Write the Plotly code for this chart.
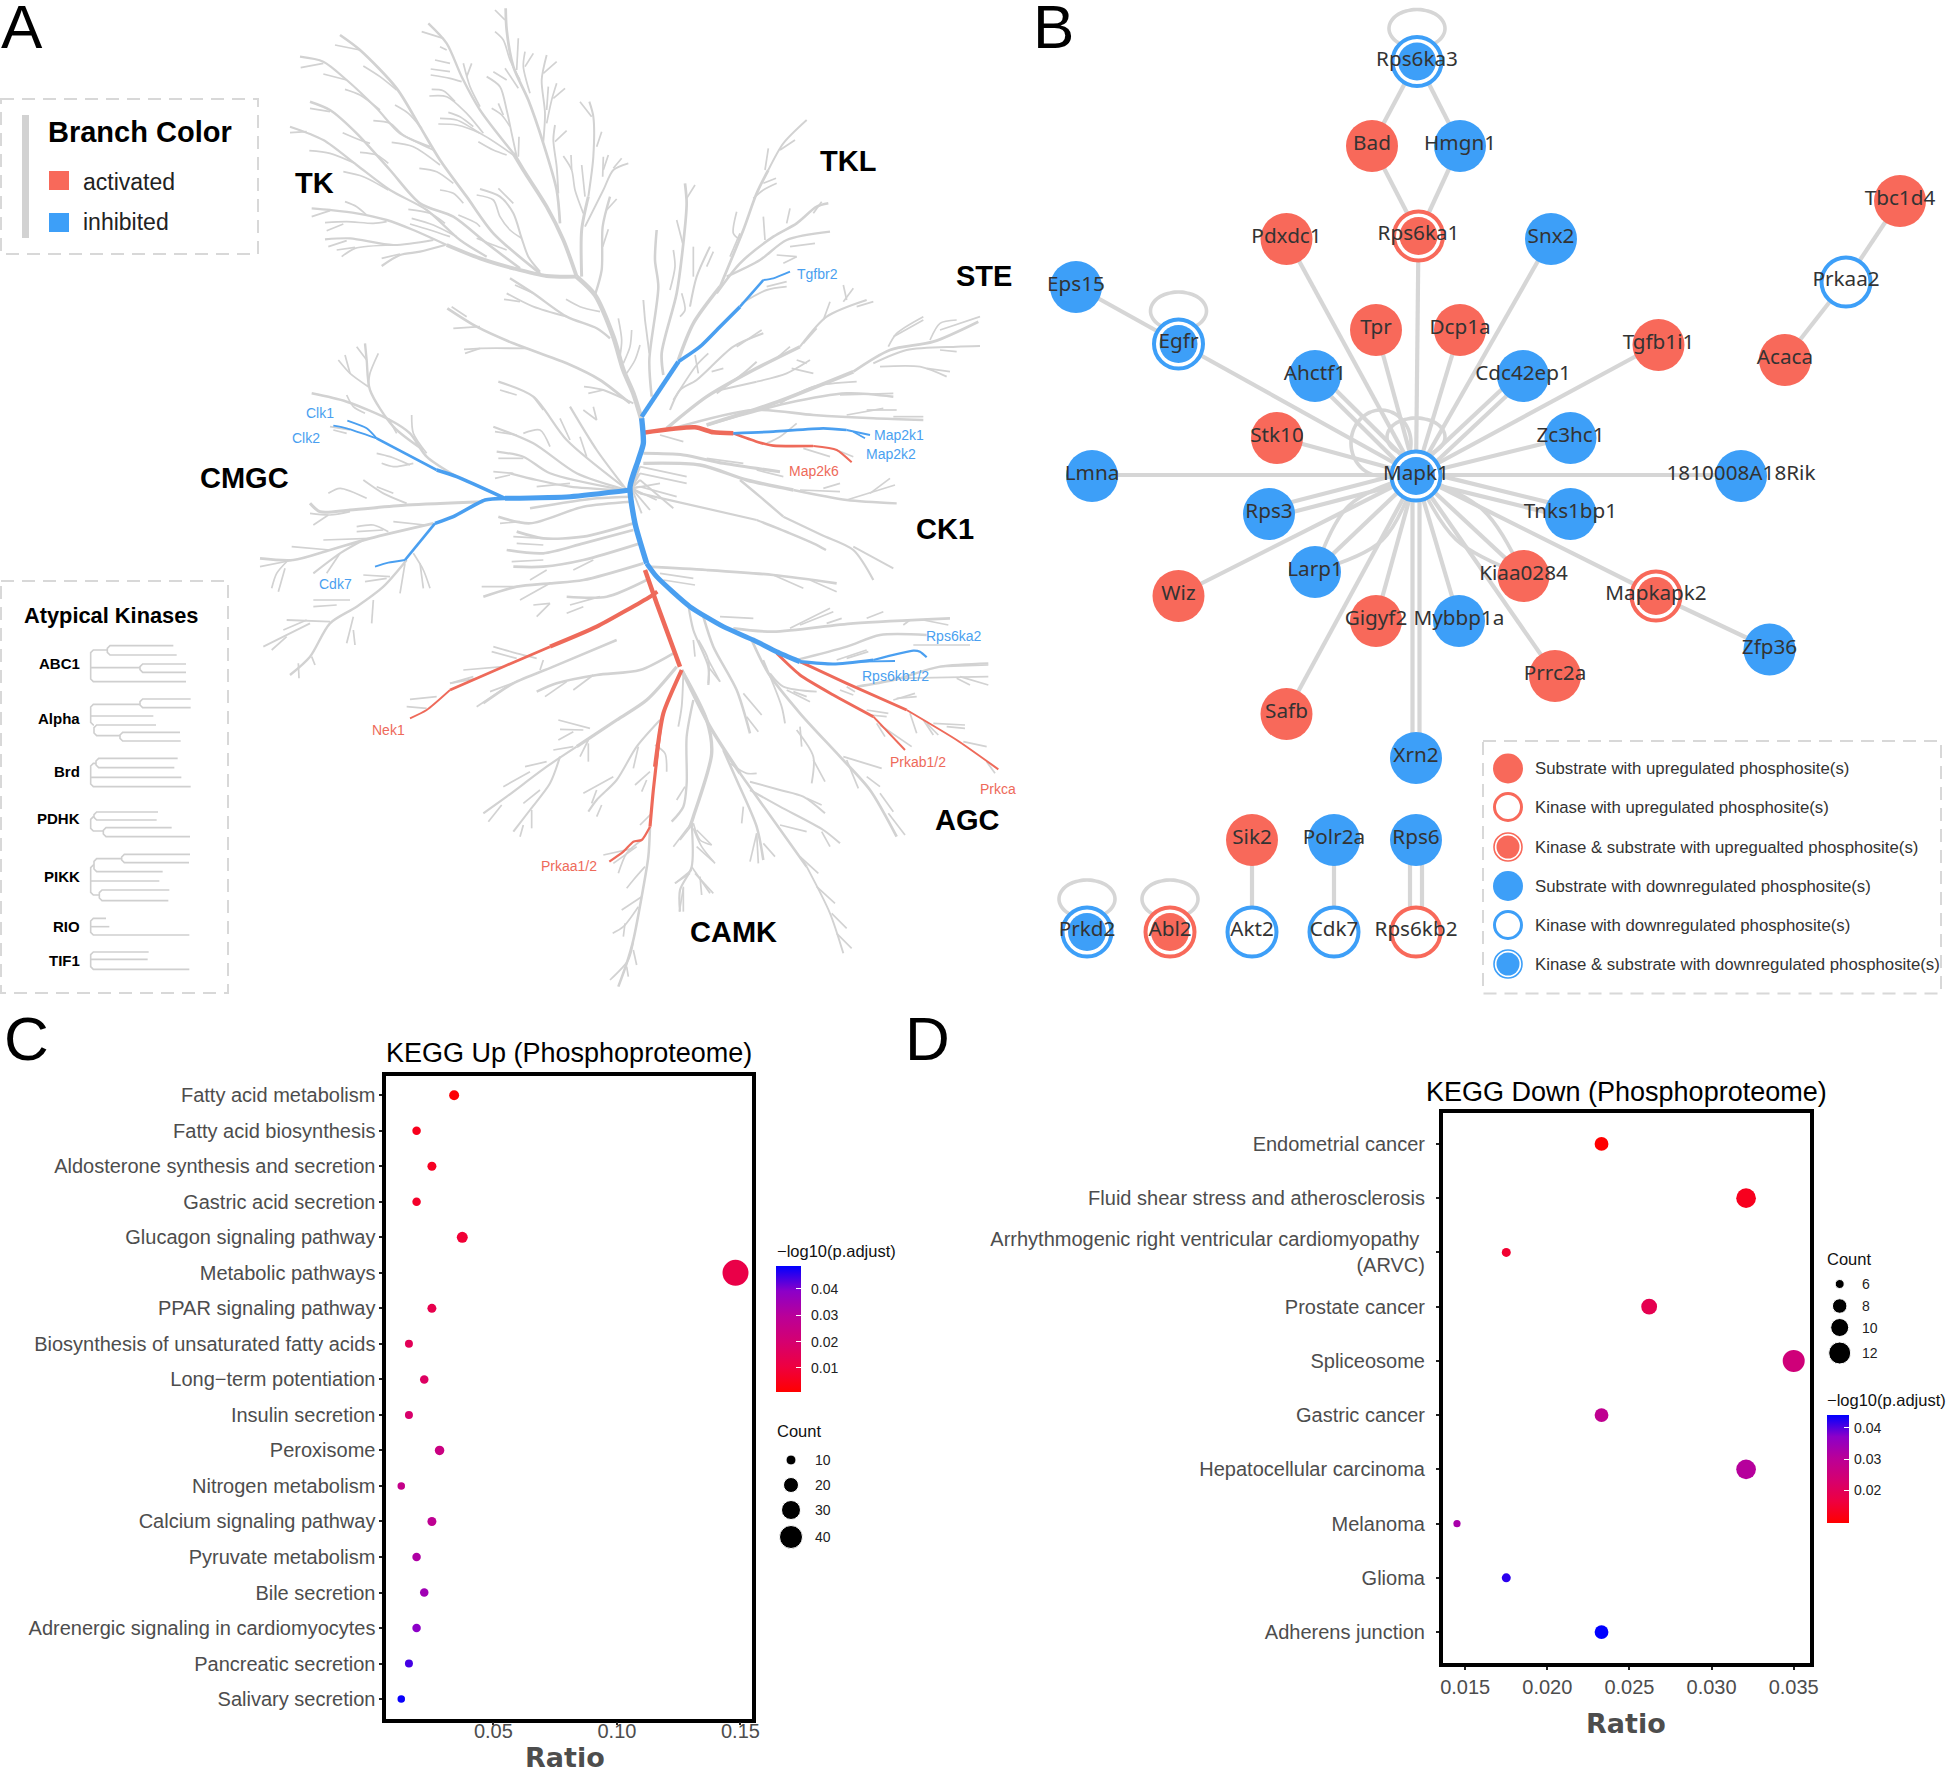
import math
import plotly.graph_objects as go

W, H = 1950, 1772
GRAY = "#d2d2d2"; TRED = "#ee6a5a"; TBLUE = "#4a9ff0"
NRED = "#f8695a"; NBLUE = "#3d9ff8"
TXT = "#4d4d4d"; FONT = "Liberation Sans"

# ---------------- Panel C data
c_terms = ["Fatty acid metabolism", "Fatty acid biosynthesis", "Aldosterone synthesis and secretion",
           "Gastric acid secretion", "Glucagon signaling pathway", "Metabolic pathways", "PPAR signaling pathway",
           "Biosynthesis of unsaturated fatty acids", "Long\u2212term potentiation", "Insulin secretion", "Peroxisome",
           "Nitrogen metabolism", "Calcium signaling pathway", "Pyruvate metabolism", "Bile secretion",
           "Adrenergic signaling in cardiomyocytes", "Pancreatic secretion", "Salivary secretion"]
c_ratio = [0.0341, 0.0189, 0.0251, 0.0189, 0.0374, 0.148, 0.0251, 0.0158, 0.022, 0.0158, 0.0282, 0.0127, 0.0251,
           0.0189, 0.022, 0.0189, 0.0158, 0.0127]
c_padj = [0.002, 0.005, 0.006, 0.007, 0.009, 0.012, 0.013, 0.015, 0.017, 0.019, 0.024, 0.026, 0.028, 0.032, 0.035,
          0.039, 0.044, 0.048]
c_size = [10, 8.5, 9, 8.5, 11, 26, 9, 8, 8.5, 8, 9.5, 7.5, 9, 8.5, 8.5, 8.5, 8, 7.5]
c_count_levels = ["10", "20", "30", "40"]
c_count_sizes = [10, 15, 19, 23]
c_count_y = [1460, 1485, 1510, 1537]

# ---------------- Panel D data
d_terms = ["Endometrial cancer", "Fluid shear stress and atherosclerosis",
           "Arrhythmogenic right ventricular cardiomyopathy <br>(ARVC)", "Prostate cancer", "Spliceosome",
           "Gastric cancer", "Hepatocellular carcinoma", "Melanoma", "Glioma", "Adherens junction"]
d_ratio = [0.0233, 0.0321, 0.0175, 0.0262, 0.0350, 0.0233, 0.0321, 0.0145, 0.0175, 0.0233]
d_padj = [0.0098, 0.013, 0.015, 0.019, 0.025, 0.029, 0.031, 0.033, 0.042, 0.0441]
d_size = [13.8, 19.7, 9, 15.8, 22, 13.8, 19.7, 7.2, 9, 13.8]
d_count_levels = ["6", "8", "10", "12"]
d_count_sizes = [9, 14.5, 18, 22]
d_count_y = [1284, 1306, 1327.5, 1353]

COLORSCALE = [[0, "#ff0000"], [0.2, "#ee0040"], [0.4, "#d50070"], [0.6, "#ba0098"], [0.8, "#8c00c8"], [1, "#0000ff"]]

# ---------------- Panel B network
nodes_sub_up = {"Bad": (1372, 145), "Pdxdc1": (1286.5, 238), "Tpr": (1376, 329), "Dcp1a": (1460, 329),
                "Tgfb1i1": (1658.5, 344), "Stk10": (1277, 437), "Kiaa0284": (1523.5, 575), "Wiz": (1178.5, 595),
                "Gigyf2": (1376, 620), "Prrc2a": (1555, 675), "Safb": (1286.5, 713), "Sik2": (1252, 839),
                "Tbc1d4": (1900, 200), "Acaca": (1785, 359)}
nodes_kin_up = {"Rps6kb2": (1416, 931)}
nodes_both_up = {"Rps6ka1": (1418.5, 235), "Mapkapk2": (1656, 595), "Abl2": (1170, 931)}
nodes_sub_down = {"Hmgn1": (1460, 145), "Snx2": (1551, 238), "Eps15": (1076, 286), "Ahctf1": (1315, 375),
                  "Cdc42ep1": (1523, 375), "Zc3hc1": (1570.5, 437), "Lmna": (1092, 475), "1810008A18Rik": (1741, 475),
                  "Rps3": (1269, 513), "Tnks1bp1": (1570.5, 513), "Larp1": (1315, 571), "Mybbp1a": (1459, 620),
                  "Zfp36": (1769.5, 648.5), "Xrn2": (1416, 757), "Polr2a": (1334, 839), "Rps6": (1416, 839)}
nodes_kin_down = {"Akt2": (1252, 931), "Cdk7": (1334, 931), "Prkaa2": (1846, 281)}
nodes_both_down = {"Rps6ka3": (1417, 60.5), "Egfr": (1178.5, 343), "Mapk1": (1416, 475), "Prkd2": (1087, 931)}
POS = {**nodes_sub_up, **nodes_kin_up, **nodes_both_up, **nodes_sub_down, **nodes_kin_down, **nodes_both_down}

edges_single = [("Mapk1", n) for n in ["Lmna", "1810008A18Rik", "Snx2", "Pdxdc1", "Rps6ka1", "Tpr", "Dcp1a", "Egfr",
                                       "Tgfb1i1", "Stk10", "Zc3hc1", "Larp1", "Wiz", "Safb", "Gigyf2", "Mybbp1a",
                                       "Kiaa0284", "Prrc2a", "Mapkapk2"]] + [
    ("Bad", "Rps6ka3"), ("Hmgn1", "Rps6ka3"), ("Bad", "Rps6ka1"), ("Hmgn1", "Rps6ka1"), ("Eps15", "Egfr"),
    ("Tbc1d4", "Prkaa2"), ("Prkaa2", "Acaca"), ("Mapkapk2", "Zfp36"), ("Sik2", "Akt2"), ("Polr2a", "Cdk7")]
edges_double = [("Mapk1", "Xrn2", 3.5), ("Rps6", "Rps6kb2", 6), ("Mapk1", "Rps3", 5), ("Mapk1", "Tnks1bp1", 5),
                ("Mapk1", "Ahctf1", 4), ("Mapk1", "Cdc42ep1", 4)]
edges_arc = [("Mapk1", "Larp1", 24), ("Mapk1", "Larp1", -24), ("Mapk1", "Kiaa0284", 20), ("Mapk1", "Kiaa0284", -20)]
loops = [("Rps6ka3", 28, 19, -32), ("Egfr", 28, 19, -32), ("Prkd2", 28, 19, -32), ("Abl2", 28, 19, -32),
         ("Mapk1", 29, 19, -38)]
extra_loop = [(1381, 443, 30, 33)]

b_legend_labels = ["Substrate with upregulated phosphosite(s)", "Kinase with upregulated phosphosite(s)",
                   "Kinase & substrate with upregualted phosphosite(s)", "Substrate with downregulated phosphosite(s)",
                   "Kinase with downregulated phosphosite(s)", "Kinase & substrate with downregulated phosphosite(s)"]
b_legend_y = [768.5, 807, 847, 886, 925, 964]

# ---------------- Panel A kinome tree (crop coordinates read at 3x)
O_TK = (280, 0); O_STE = (640, 120); O_CMGC = (250, 330); O_AGC = (640, 560); O_CAMK = (340, 640)
tk_branches = [
 (5.5, [(1085,1260),(1060,1180),(1030,1110),(1000,1010),(945,885),(890,830)]),
 (4.5, [(890,830),(800,828),(700,805),(600,775),(500,735)]),
 (2.8, [(500,735),(400,690),(320,660),(230,640),(150,630),(95,625)]),
 (4.5, [(890,830),(850,720),(800,620),(730,510),(700,460)]),
 (2.8, [(700,460),(600,330),(545,230),(500,130),(445,70)]),
 (3.2, [(840,670),(830,570),(790,430),(745,300),(700,200),(680,90),(677,25)]),
 (3.5, [(905,830),(905,690),(925,590)]),
 (2.4, [(925,590),(940,470),(940,350),(928,305)]),
 (2.8, [(945,885),(965,810),(968,680),(990,590)]),
 (3.2, [(780,820),(640,700),(560,590),(480,480),(420,380),(350,265),(240,150),(180,105)]),
 (3.0, [(720,805),(620,730),(520,650),(420,610),(330,510),(230,400),(150,330),(90,305)]),
 (2.6, [(620,770),(540,720),(440,630),(330,570),(230,495),(130,420),(30,380)]),
 (2.6, [(495,735),(420,755),(360,765),(305,798)]),
 (2.6, [(460,720),(340,735),(210,715),(135,718)]),
 (2.5, [(450,440),(360,400),(290,325),(200,240),(130,185),(60,170)]),
 (2, [(165,135),(240,150)]), (2, [(62,203),(130,190)]), (2, [(130,222),(200,240)]),
 (2, [(195,268),(240,285),(300,330)]), (2, [(250,198),(300,230),(350,270)]), (2, [(345,315),(385,340),(425,385)]),
 (2, [(280,362),(330,370),(370,405),(460,450)]), (2, [(90,325),(150,335)]), (2, [(335,427),(400,440),(480,495)]),
 (2, [(188,398),(240,420),(270,430)]), (2, [(240,457),(290,465),(325,490)]), (2, [(88,452),(150,460),(225,490)]),
 (2, [(190,515),(250,530),(325,570)]), (2, [(418,505),(470,515),(520,550)]), (2, [(480,570),(520,580),(550,610)]),
 (2, [(535,645),(590,670),(600,680)]), (2, [(590,715),(640,735),(680,750)]), (2, [(385,628),(450,640),(495,670)]),
 (2, [(395,655),(460,675),(530,710)]), (2, [(390,672),(450,690),(510,710)]), (2, [(195,605),(230,620),(260,645)]),
 (2, [(95,650),(150,632)]), (2, [(135,668),(200,665),(280,670),(320,665)]), (2, [(140,692),(190,672)]),
 (2, [(145,740),(200,722)]), (2, [(170,750),(225,742)]), (2, [(185,770),(225,745),(340,735)]),
 (2, [(305,775),(360,762)]), (2, [(30,398),(80,395)]), (2, [(590,585),(640,600),(660,650),(690,690),(725,715)]),
 (2.4, [(600,567),(660,590),(700,640),(725,715),(745,770),(780,815)]), (2, [(655,565),(700,610)]),
 (2, [(475,372),(530,375),(600,400),(700,465)]), (2, [(480,355),(530,360),(600,400)]), (2, [(505,337),(540,350),(580,380)]),
 (2, [(448,288),(500,290),(560,340),(610,400)]), (2, [(455,268),(490,272),(525,305)]), (2, [(452,225),(510,235),(545,245)]),
 (2, [(452,207),(510,215)]), (2, [(465,180),(510,190)]), (2, [(480,140),(500,150)]), (2, [(425,95),(490,115)]),
 (2, [(550,190),(570,260),(600,320)]), (2, [(575,190),(560,230)]), (2, [(595,425),(640,450),(680,465)]),
 (2.2, [(620,230),(660,260),(680,330),(695,400),(710,470)]), (2, [(640,215),(680,240)]), (2, [(635,325),(665,345),(690,380)]),
 (2, [(655,310),(670,345)]), (2, [(717,410),(715,470)]), (2, [(645,30),(675,60)]), (2, [(645,95),(670,120),(690,180),(720,240)]),
 (2, [(715,115),(710,210)]), (2, [(735,155),(730,200),(750,280)]), (2, [(760,160),(735,200)]), (2, [(675,205),(715,265)]),
 (2.2, [(800,165),(785,240),(795,340),(790,425)]), (2, [(830,185),(790,220)]), (2, [(830,250),(815,300),(800,370)]),
 (2, [(855,265),(820,295)]), (2, [(805,260),(800,330)]), (2.2, [(825,375),(820,420),(830,500),(835,580)]), (2, [(860,392),(825,425)]),
 (2, [(900,305),(935,350)]), (2, [(965,395),(950,440)]), (2, [(850,468),(875,510),(885,570),(910,640)]), (2, [(873,465),(875,510)]),
 (2, [(905,495),(915,590)]), (2.2, [(1045,490),(1000,510),(970,570),(915,680)]), (2, [(985,465),(970,510)]), (2, [(1025,475),(1000,505)]),
 (2, [(970,470),(968,530)]), (2, [(1010,597),(980,630)]), (2, [(985,688),(968,740)]),
 (2.8, [(690,835),(760,880),(860,950),(950,985),(990,1015)]), (2.2, [(680,880),(760,920),(860,950)]), (2, [(705,855),(760,880)]),
 (2, [(672,898),(720,905)]), (2, [(858,898),(900,920),(960,935)]),
 (3.2, [(502,925),(590,980),(700,1030),(860,1090),(960,1140),(1050,1210)]), (2, [(515,920),(560,950)]), (2, [(520,985),(600,980)]),
 (2.2, [(552,1048),(600,1045),(740,1045)]), (2, [(555,1060),(600,1045)]), (2, [(1015,955),(1025,1020),(1020,1070)]),
 (2, [(1055,990),(1050,1040),(1030,1090)]), (2, [(1080,1035),(1065,1080),(1040,1120)]), (2.2, [(912,1160),(970,1170),(1060,1210)]),
 (2, [(925,1180),(970,1170)]),
]
ste_branches = [
 (3.0, [(35,830),(28,720),(55,500),(45,420),(50,330)]), (2.2, [(15,600),(10,540)]), (2.2, [(28,700),(15,600)]),
 (3.2, [(70,765),(65,700),(110,520),(130,370),(140,250),(135,190)]), (2, [(165,195),(140,235)]), (2, [(110,300),(128,370)]),
 (2, [(100,390),(105,440),(90,510)]), (2, [(125,520),(135,570),(120,590)]),
 (4.0, [(115,720),(160,610),(240,500)]), (3.2, [(240,500),(310,330),(350,220),(385,150)]), (2.2, [(385,150),(430,70),(500,0)]),
 (2, [(385,85),(375,150)]), (2, [(465,60),(420,90)]), (2, [(410,190),(370,210),(340,235)]), (2, [(408,175),(370,190)]),
 (2, [(290,275),(280,340),(300,360)]), (2, [(300,340),(270,410)]), (2.4, [(210,380),(170,470),(150,560)]), (2, [(220,395),(200,440)]), (2, [(160,380),(160,470)]),
 (3.0, [(230,520),(300,430),(400,350),(470,310),(530,260),(565,250)]), (2, [(370,290),(375,360)]), (2, [(450,265),(440,310)]), (2, [(545,245),(520,280)]),
 (2, [(380,500),(440,485)]), (2.2, [(305,550),(380,510),(440,500)]),
 (2.8, [(260,470),(360,420),(440,360),(570,335)]), (2, [(450,380),(525,370)]), (2, [(410,405),(470,410)]), (2, [(430,430),(470,410)]),
 (2.4, [(90,870),(120,810),(170,780),(280,680),(370,640)]), (2, [(290,680),(365,630)]), (2.2, [(100,840),(170,735),(205,700)]), (2, [(165,705),(175,760)]), (2, [(215,755),(250,745)]),
 (4, [(80,925),(200,830),(340,750),(480,680)]), (2.4, [(480,680),(560,590),(680,540)]), (2, [(570,545),(550,600)]), (2, [(640,505),(610,545)]), (2, [(700,545),(650,560)]), (2, [(610,495),(620,540)]),
 (2, [(415,710),(450,680)]), (2, [(490,670),(530,625)]),
 (2.4, [(230,820),(310,760),(350,725)]), (2.2, [(350,785),(440,760),(510,720)]), (2, [(455,745),(520,760)]), (2, [(470,720),(500,730)]), (2.4, [(240,810),(350,785)]),
 (4.5, [(200,915),(400,850),(640,755)]), (3.2, [(640,755),(750,690),(880,665),(1015,605)]), (2, [(745,680),(770,640),(850,590)]), (2, [(760,650),(850,600)]),
 (2, [(870,660),(900,610),(950,600)]), (2, [(900,630),(1020,590)]), (2.4, [(700,730),(800,690),(950,680),(1020,678)]), (2, [(900,690),(950,695)]),
 (2.2, [(720,740),(840,740),(920,770)]), (2, [(860,745),(930,755)]),
 (3, [(200,915),(440,850),(620,820),(760,830)]), (2.2, [(420,850),(520,800),(650,785)]), (2, [(600,825),(760,820)]),
 (3, [(100,925),(340,870),(520,885),(700,895),(850,900)]), (2, [(620,885),(730,865)]), (2, [(680,870),(770,870)]), (2, [(760,890),(850,890)]),
 (2, [(380,970),(420,950),(470,910)]), (2, [(490,985),(570,1010)]), (2, [(590,990),(640,1010)]), (2, [(60,945),(130,965)]),
 (3.6, [(10,1000),(130,1005),(250,1030),(420,1055)]), (2, [(200,1015),(310,1030)]), (2, [(350,1050),(430,1070)]),
 (4, [(10,1030),(180,1035),(320,1080),(460,1110)]), (2.8, [(460,1110),(620,1140),(770,1150)]), (2, [(620,1140),(765,1095)]), (2, [(690,1120),(750,1075)]), (2, [(480,1110),(600,1115)]), (2, [(550,1105),(600,1090)]),
 (2.2, [(0,1040),(140,1070)]), (2.2, [(0,1060),(140,1090)]), (2.2, [(0,1080),(100,1165)]), (2.2, [(0,1100),(110,1130)]), (2.6, [(0,1120),(350,1200)]), (2.8, [(300,1080),(360,1130),(430,1190)]),
 (2.8, [(350,1200),(450,1240),(520,1270),(558,1290)]), (2.6, [(430,1190),(545,1245),(640,1290),(700,1380)]), (2.2, [(640,1280),(760,1345)]),
 (2.4, [(-25,1105),(0,1040)]), (2.4, [(-25,1105),(0,1060)]), (2.4, [(-25,1105),(0,1080)]), (2.4, [(-25,1105),(0,1100)]), (2.4, [(-25,1105),(0,1120)]),
 (2.2, [(-25,1105),(60,1090)]), (2.2, [(-25,1105),(50,1140)]), (2.2, [(-25,1105),(30,1170)]), (2.2, [(-25,1105),(5,1180)]),
]
cmgc_branches = [
 (2.6, [(1130,480),(1040,360),(960,230)]), (2, [(1000,240),(1040,270)]), (2, [(1030,230),(1040,270)]),
 (2.6, [(1120,470),(950,330),(850,200),(745,155)]), (2, [(750,180),(800,195)]), (2, [(850,200),(880,240)]),
 (2.6, [(1130,480),(980,430),(850,340),(730,290)]), (2, [(735,305),(800,315)]), (2, [(820,310),(870,300),(900,350)]), (2, [(930,265),(960,330)]), (2, [(990,320),(1010,380)]),
 (2.6, [(1120,480),(900,430),(820,380),(740,365)]), (2, [(745,385),(820,385)]),
 (2.6, [(1100,480),(960,470),(860,450),(780,430)]), (2, [(730,425),(790,430)]), (2, [(735,445),(780,435)]), (2, [(860,470),(960,460)]),
 (3, [(1150,500),(1040,505),(840,535)]), (3, [(1145,515),(1000,530),(840,580),(745,560)]), (2, [(750,580),(810,575)]),
 (3.2, [(1150,580),(1000,620),(880,625),(800,605)]), (2, [(790,620),(880,625)]),
 (3.2, [(1150,600),(1000,640),(880,670),(770,660)]), (2, [(800,640),(880,645)]),
 (3.2, [(1170,640),(1000,690),(880,710),(790,710)]), (2, [(785,695),(880,690)]), (2, [(970,720),(1030,690)]), (2, [(840,750),(890,720)]),
 (3.2, [(1180,700),(1000,750),(900,760),(800,770),(700,800)]), (2, [(695,770),(790,770)]), (2, [(810,810),(900,760)]),
 (3, [(1190,750),(1070,800),(950,800)]), (2, [(960,825),(1050,800)]), (2, [(850,825),(900,820)]), (2, [(860,860),(900,820)]), (2, [(950,850),(1000,830)]),
 (2, [(730,950),(800,970),(860,985)]), (2, [(725,965),(800,985)]), (2, [(640,1020),(760,1010)]), (2, [(600,1060),(680,1045)]), (2, [(480,1108),(560,1100)]), (2, [(470,1130),(530,1135)]),
 (3, [(620,440),(530,380),(480,310),(420,270),(290,215),(185,190)]), (2, [(530,370),(490,310),(485,255)]), (2, [(290,195),(310,230),(345,250)]), (2, [(415,265),(440,310)]), (2, [(240,290),(300,300)]), (2, [(250,300),(290,310)]),
 (2.8, [(520,360),(430,290),(360,180),(350,90),(345,40)]), (2, [(265,90),(300,130),(355,170)]), (2, [(320,50),(350,90)]), (2, [(385,70),(360,130),(355,170)]), (2, [(285,75),(300,130)]),
 (2, [(480,405),(420,380),(380,370)]), (2, [(490,400),(430,410),(395,400)]),
 (3.6, [(700,515),(470,525),(300,540),(210,545),(180,520)]), (2, [(300,545),(240,555),(180,550)]), (2, [(235,555),(190,585)]), (2.2, [(470,520),(400,490),(340,450)]), (2, [(430,490),(380,470)]), (2, [(350,505),(270,475),(235,490)]),
 (3.2, [(550,580),(360,625),(240,660),(130,690),(30,685)]), (2, [(525,585),(430,575)]), (2, [(415,605),(370,585),(320,590)]), (2, [(400,600),(320,605)]), (2, [(360,625),(220,630)]), (2, [(240,660),(125,650)]), (2, [(130,690),(30,710)]),
 (2.4, [(340,630),(270,670),(190,730)]), (2, [(270,670),(230,730)]), (2, [(115,690),(80,730),(65,775)]), (2, [(105,715),(85,785)]),
 (2, [(490,670),(520,720),(540,775)]), (2, [(510,700),(520,775)]),
 (2.8, [(470,690),(400,770),(320,830),(240,880),(180,980),(120,1035)]), (2, [(420,740),(340,735)]), (2, [(410,745),(345,755)]), (2, [(465,700),(450,790)]), (2, [(300,810),(190,810)]), (2, [(260,825),(190,830)]),
 (2.2, [(240,875),(110,870)]), (2, [(170,870),(100,900)]), (2.2, [(180,880),(40,950)]), (2, [(110,920),(65,960)]), (2, [(370,810),(365,880)]), (2, [(310,860),(290,940)]), (2, [(310,900),(315,945)]), (2, [(185,980),(195,1005)]), (2, [(145,1000),(147,1045)]),
]
camk_branches = [
 (3, [(830,0),(640,80),(520,130),(430,190)]), (2, [(530,125),(450,155)]), (2, [(500,140),(410,200)]), (2, [(600,90),(610,60)]), (2, [(400,110),(330,130)]),
 (3, [(1000,40),(900,90),(770,105),(650,130),(590,155)]), (2, [(760,105),(700,150)]), (2, [(680,125),(615,170)]),
 (3.8, [(1010,80),(920,180),(830,240),(710,320)]), (2.6, [(710,320),(620,380),(500,470),(430,520)]), (2, [(750,265),(655,240)]), (2, [(730,270),(660,268)]), (2, [(700,275),(655,300)]), (2, [(700,320),(640,330)]), (2, [(745,300),(720,350)]), (2, [(745,310),(745,365)]),
 (2.4, [(660,350),(630,430),(570,510),(520,575)]), (2, [(620,365),(555,380)]), (2, [(570,395),(490,440)]), (2, [(600,450),(550,490)]), (2, [(575,510),(575,565)]), (2, [(550,555),(540,590)]), (2, [(485,495),(445,545)]),
 (2.4, [(960,240),(890,320),(830,420),(770,480),(745,515)]), (2, [(895,320),(880,385)]), (2, [(820,410),(730,460)]), (2, [(770,450),(755,490)]), (2, [(785,495),(770,530)]),
 (2, [(930,395),(885,435)]), (2, [(920,420),(905,455)]), (2, [(945,315),(975,340),(980,395)]), (2, [(935,520),(900,555)]),
 (3, [(930,560),(925,650),(905,770),(880,900),(860,970),(835,1040)]), (2, [(905,600),(860,640),(835,700)]), (2, [(890,620),(820,670)]), (2, [(790,645),(880,625)]), (2, [(915,680),(880,720),(860,745)]), (2, [(905,770),(845,810)]),
 (2, [(895,800),(850,860),(818,880)]), (2, [(855,850),(850,890)]), (2, [(880,905),(865,960),(810,1020)]), (2, [(880,930),(890,975)]), (2, [(860,980),(865,1010)]),
 (2.8, [(1060,180),(1040,290),(1040,430),(1030,500),(995,545)]), (2.2, [(1030,100),(1025,200),(1015,260)]), (2, [(1035,440),(1010,480)]),
 (4, [(1025,90),(1100,240),(1115,340),(1060,530),(1050,560)]), (2.6, [(1055,550),(1055,680),(1020,750),(1020,815)]), (2, [(1050,555),(1000,620)]), (2, [(1060,565),(1085,620),(1125,670)]), (2, [(1070,570),(1115,615)]),
 (2, [(1055,680),(1110,760)]), (2, [(1080,710),(1085,765)]), (2, [(1050,700),(1005,730)]), (2, [(1030,740),(1030,815)]),
 (2, [(1060,0),(1065,50)]), (2.2, [(1075,0),(1105,60),(1105,130)]), (2, [(1105,60),(1140,125)]),
]
agc_branches = [
 (3.2, [(20,20),(200,30),(400,45),(590,70)]), (2, [(400,45),(490,85)]), (2, [(510,60),(590,95)]), (2, [(60,40),(160,55)]), (2, [(70,60),(165,75)]),
 (2, [(240,170),(340,175)]), (3.2, [(280,205),(400,215),(640,190),(930,175)]), (2, [(450,205),(570,145)]), (2, [(480,195),(580,155)]), (2, [(560,190),(605,175)]), (2, [(680,175),(730,155)]), (2, [(790,195),(810,180)]), (2, [(850,180),(925,195)]),
 (2.8, [(470,300),(620,260),(720,225),(860,225)]), (2, [(820,255),(990,255)]), (2, [(590,300),(680,270)]), (2, [(620,295),(685,275)]),
 (2.8, [(650,380),(760,360),(900,320),(1045,310)]), (2, [(900,320),(1045,315)]), (2.2, [(760,355),(1045,350)]), (2, [(950,355),(990,375)]), (2, [(960,350),(1045,375)]),
 (2, [(600,390),(640,405)]), (2, [(620,380),(645,395)]), (2, [(680,450),(745,460)]), (2, [(690,465),(740,470)]), (2, [(710,490),(735,530)]), (2, [(720,495),(815,560)]),
 (2, [(760,420),(825,400)]), (2, [(770,415),(830,410)]), (2, [(810,460),(830,520)]), (2, [(850,480),(880,525)]), (2, [(860,490),(895,525)]), (2, [(880,490),(975,495)]), (2, [(920,500),(975,505)]), (2, [(970,545),(1040,560)]), (2, [(1040,605),(1065,640)]),
 (3.2, [(335,240),(385,340),(480,460),(600,590),(690,690),(770,830)]), (2.2, [(390,340),(430,380),(530,395)]), (2, [(440,390),(510,425)]), (2, [(460,395),(500,410)]), (2, [(480,500),(485,560)]), (2.2, [(470,510),(520,590),(515,670)]), (2, [(520,600),(555,665)]), (2.2, [(610,590),(725,625)]), (2, [(620,600),(655,685)]), (2, [(680,650),(720,680)]), (2, [(720,700),(760,755)]), (2, [(745,760),(795,825)]),
 (2.2, [(370,300),(425,440),(435,490)]),
 (3, [(190,170),(220,260),(290,390),(330,520)]), (2, [(310,400),(365,465)]), (2, [(320,470),(355,515)]),
 (2.6, [(145,135),(160,210),(205,320),(205,375)]), (2, [(205,320),(240,365)]),
 (4, [(125,330),(210,500),(300,640)]), (3, [(300,640),(400,780),(500,920)]), (2.2, [(500,920),(570,1060),(610,1180)]), (2, [(480,890),(535,940)]), (2, [(530,980),(585,1030)]), (2, [(575,1060),(620,1105)]), (2, [(590,1120),(635,1165)]),
 (3, [(250,570),(290,660),(350,800),(370,900)]), (2, [(350,820),(330,905)]), (2, [(350,820),(355,910)]), (2, [(310,740),(305,790)]), (2, [(370,850),(405,890)]),
 (2.4, [(330,665),(420,690),(490,710),(555,760)]), (2, [(270,610),(320,640),(350,640)]), (2, [(500,715),(545,735)]),
 (2.4, [(330,690),(420,740),(550,810),(600,850)]), (2, [(420,795),(500,815)]), (2, [(545,815),(570,860)]),
 (2, [(120,840),(160,790)]), (2, [(160,790),(180,840),(215,855)]), (2, [(170,860),(220,905)]),
 (2, [(155,930),(105,970)]), (2, [(165,940),(220,1000)]), (2, [(130,985),(118,1055)]),
]
red_paths = [
 (O_AGC, 5, [(15,30),(50,130),(120,320)]), (O_AGC, 4.5, [(125,330),(70,460),(45,620)]), (O_CAMK, 3.5, [(960,270),(940,450),(930,560)]),
 (O_CAMK, 2.5, [(930,560),(905,600),(880,605),(850,635),(808,665)]),
 (O_CMGC, 4.5, [(1222,785),(1200,800),(1040,890),(900,950)]), (O_CMGC, 3, [(900,950),(760,1010),(600,1080)]), (O_CMGC, 2, [(600,1080),(530,1140),(480,1165)]),
 (O_STE, 5, [(10,938),(165,922),(220,937),(280,940)]), (O_STE, 3, [(280,940),(350,965),(400,977),(520,978)]), (O_STE, 2.2, [(520,978),(590,990),(635,1027)]),
 (O_AGC, 3.2, [(410,280),(480,345),(580,405),(700,470)]), (O_AGC, 2.2, [(700,470),(795,570)]),
 (O_AGC, 3.2, [(480,305),(620,370),(800,450)]), (O_AGC, 2.2, [(800,450),(950,540),(1075,628)]),
]
blue_paths = [
 (O_CMGC, 6, [(1175,265),(1180,340),(1165,390),(1140,470),(1155,580),(1190,700)]),
 (O_AGC, 5.5, [(20,10),(50,50),(150,140),(250,200),(340,240),(410,275),(480,305)]),
 (O_AGC, 3.5, [(480,305),(580,312),(700,300)]), (O_AGC, 2.4, [(700,300),(820,272),(840,275),(860,292)]), (O_AGC, 2, [(660,305),(765,303)]),
 (O_STE, 5, [(5,890),(115,725)]), (O_STE, 4, [(115,725),(180,680),(240,620),(300,560)]), (O_STE, 2.8, [(300,560),(370,480)]), (O_STE, 2, [(370,480),(400,475),(450,455)]),
 (O_CMGC, 5.5, [(1140,480),(960,500),(765,505)]), (O_CMGC, 4, [(765,505),(620,440),(560,420)]), (O_CMGC, 3, [(560,420),(380,325)]), (O_CMGC, 2, [(380,325),(290,295),(250,287)]), (O_CMGC, 2, [(380,325),(350,295),(292,272)]),
 (O_CMGC, 4, [(765,505),(705,510),(610,560),(555,580)]), (O_CMGC, 3, [(555,580),(465,690)]), (O_CMGC, 2, [(465,690),(415,698),(375,710)]),
 (O_STE, 3, [(280,940),(400,935),(550,925),(620,930)]), (O_STE, 2, [(620,930),(690,945)]), (O_STE, 2, [(640,935),(675,955)]),
]
family_labels = {"TK": (314, 183), "TKL": (848, 161), "STE": (984, 276), "CK1": (945, 529), "AGC": (967, 820), "CAMK": (733, 932), "CMGC": (244, 478)}
red_labels = {"Map2k6": (814, 471), "Nek1": (388, 730), "Prkaa1/2": (569, 866), "Prkab1/2": (918, 762), "Prkca": (998, 789)}
blue_labels = {"Tgfbr2": (817, 274), "Map2k1": (899, 435), "Map2k2": (891, 454), "Clk1": (320, 413), "Clk2": (306, 438),
               "Cdk7": (335, 584), "Rps6ka2": (953, 636), "Rps6kb1/2": (895, 676)}
atyp_labels = {"ABC1": 664, "Alpha": 719, "Brd": 772, "PDHK": 819, "PIKK": 877, "RIO": 927, "TIF1": 961}
atyp_clades = [
 (272, [(240,322),(293,420),(335,558)]), (322, [(227,520),(255,530)]), (420, [(282,558),(307,558)]),
 (272, [(403,420),(438,460),(465,282)]), (282, [(465,468),(497,360)]), (360, [(487,540),(513,542)]), (420, [(387,572),(413,572)]),
 (272, [(580,288),(622,544),(650,572)]), (288, [(565,533),(593,523)]),
 (272, [(740,282),(783,310)]), (282, [(726,474),(750,470)]), (310, [(773,515),(800,570)]),
 (272, [(885,282),(933,478),(975,298)]), (282, [(866,365),(905,488)]), (365, [(853,570),(878,567)]), (298, [(960,508),(992,505)]),
 (272, [(1045,318),(1070,328),(1095,568)]), (272, [(1146,446),(1168,443),(1198,568)]),
]

# ---------------- helpers
fig = go.Figure()
OV = dict(xaxis="x3", yaxis="y3", hoverinfo="skip", showlegend=False)
ann = []
def text(x, y, s, size, color="#000", bold=False, anchor="center", family=FONT):
    ann.append(dict(x=x, y=y, xref="x3", yref="y3", text=f"<b>{s}</b>" if bold else s, showarrow=False, xanchor=anchor,
                    yanchor="middle", font=dict(size=size, color=color, family=family)))
def conv(o, pts):
    return [(o[0] + x / 3, o[1] + y / 3) for x, y in pts]
def add_path(pts, color, w, sm=0.8):
    fig.add_trace(go.Scatter(x=[p[0] for p in pts], y=[p[1] for p in pts], mode="lines",
                             line=dict(color=color, width=w, shape="spline", smoothing=sm, simplify=False), **OV))

# ---------------- Panel A
TW = 0.85
for o, lst in [(O_TK, tk_branches), (O_STE, ste_branches), (O_CMGC, cmgc_branches), (O_CAMK, camk_branches), (O_AGC, agc_branches)]:
    for w, p in lst:
        add_path(conv(o, p), GRAY, w * TW)
for o, w, p in red_paths:
    add_path(conv(o, p), TRED, w * 0.9, 0.6)
for o, w, p in blue_paths:
    add_path(conv(o, p), TBLUE, w * 0.9, 0.6)
for k, (x, y) in family_labels.items():
    text(x, y, k, 29, bold=True)
for k, (x, y) in red_labels.items():
    text(x, y, k, 14, TRED)
for k, (x, y) in blue_labels.items():
    text(x, y, k, 14, TBLUE)

shapes = []
def dbox(x0, y0, x1, y1):
    shapes.append(dict(type="rect", xref="x3", yref="y3", x0=x0, y0=y0, x1=x1, y1=y1, layer="below",
                       line=dict(color="#d8d8d8", width=2, dash="13px,8px")))
dbox(1, 99, 258, 254); dbox(1, 581, 228, 993); dbox(1483, 741, 1941, 993.5)
shapes.append(dict(type="rect", xref="x3", yref="y3", x0=22, x1=29, y0=115, y1=238, fillcolor="#d2d2d2", line_width=0, layer="below"))
shapes.append(dict(type="rect", xref="x3", yref="y3", x0=49, x1=69, y0=171, y1=190, fillcolor=NRED, line_width=0, layer="below"))
shapes.append(dict(type="rect", xref="x3", yref="y3", x0=49, x1=69, y0=213, y1=232, fillcolor=NBLUE, line_width=0, layer="below"))
text(46, 132, "Branch Color", 29, bold=True, anchor="left")
text(81, 181.5, "activated", 23, "#222", anchor="left")
text(81, 222, "inhibited", 23, "#222", anchor="left")
text(111, 615, "Atypical Kinases", 21.8, bold=True)
for k, y in atyp_labels.items():
    text(82, y - 1, k, 15, bold=True, anchor="right")
xs, ys = [], []
for xv, kids in atyp_clades:
    kids_s = sorted(kids)
    (ytop, xtop), (ybot, xbot) = kids_s[0], kids_s[-1]
    c = 8
    path = [(xtop, ytop), (xv + c, ytop), (xv, ytop + c), (xv, ybot - c), (xv + c, ybot), (xbot, ybot)]
    for p in [path] + [[(xv, yy), (xe, yy)] for yy, xe in kids_s[1:-1]]:
        xs += [a / 3 for a, _ in p] + [None]
        ys += [570 + b / 3 for _, b in p] + [None]
fig.add_trace(go.Scatter(x=xs, y=ys, mode="lines", line=dict(color="#cfcfcf", width=1.6), **OV))

# ---------------- Panel B
ex, ey = [], []
for a, b in edges_single:
    ex += [POS[a][0], POS[b][0], None]; ey += [POS[a][1], POS[b][1], None]
for a, b, d in edges_double:
    (x0, y0), (x1, y1) = POS[a], POS[b]
    L = math.hypot(x1 - x0, y1 - y0); nx, ny = -(y1 - y0) / L, (x1 - x0) / L
    for s in (-d, d):
        ex += [x0 + nx * s, x1 + nx * s, None]; ey += [y0 + ny * s, y1 + ny * s, None]
EW = 4.2; EC = "#d6d6d6"
fig.add_trace(go.Scatter(x=ex, y=ey, mode="lines", line=dict(color=EC, width=EW), **OV))
for a, b, d in edges_arc:
    (x0, y0), (x1, y1) = POS[a], POS[b]
    L = math.hypot(x1 - x0, y1 - y0); nx, ny = -(y1 - y0) / L, (x1 - x0) / L
    add_path([(x0, y0), ((x0 + x1) / 2 + nx * d, (y0 + y1) / 2 + ny * d), (x1, y1)], EC, EW - 0.6, 1.0)
T = [i * 2 * math.pi / 48 for i in range(49)]
for n, rx, ry, dy in loops:
    cx, cy = POS[n]
    add_path([(cx + rx * math.cos(t), cy + dy + ry * math.sin(t)) for t in T], EC, EW - 0.6)
for cx, cy, rx, ry in extra_loop:
    add_path([(cx + rx * math.cos(t), cy + ry * math.sin(t)) for t in T], EC, EW - 0.6)

def node_layer(names, size, fill, ring=None, lw=0):
    pts = [POS[n] for n in names]
    fig.add_trace(go.Scatter(x=[p[0] for p in pts], y=[p[1] + 1 for p in pts], mode="markers",
                             marker=dict(size=size, color=fill, opacity=1, line=dict(color=ring or fill, width=lw)), **OV))
node_layer(nodes_sub_up, 52, NRED); node_layer(nodes_sub_down, 52, NBLUE)
node_layer(nodes_kin_up, 49, "white", NRED, 4); node_layer(nodes_kin_down, 49, "white", NBLUE, 4)
node_layer(nodes_both_up, 49, "white", NRED, 4); node_layer(nodes_both_up, 38, NRED)
node_layer(nodes_both_down, 49, "white", NBLUE, 4); node_layer(nodes_both_down, 38, NBLUE)
fig.add_trace(go.Scatter(x=[p[0] for p in POS.values()], y=[p[1] for p in POS.values()], mode="text", text=list(POS.keys()),
                         textposition="middle center", textfont=dict(size=20.7, color="#333333", family="Noto Sans"), **OV))
# legend of panel B
ly = b_legend_y; lx = [1508] * 6
fig.add_trace(go.Scatter(x=[lx[0], lx[3]], y=[ly[0], ly[3]], mode="markers", marker=dict(size=30, opacity=1, color=[NRED, NBLUE]), **OV))
fig.add_trace(go.Scatter(x=[lx[1], lx[4]], y=[ly[1], ly[4]], mode="markers", marker=dict(size=27, opacity=1, color="white", line=dict(color=[NRED, NBLUE], width=3)), **OV))
fig.add_trace(go.Scatter(x=[lx[2], lx[5]], y=[ly[2], ly[5]], mode="markers", marker=dict(size=28, opacity=1, color="white", line=dict(color=[NRED, NBLUE], width=1.6)), **OV))
fig.add_trace(go.Scatter(x=[lx[2], lx[5]], y=[ly[2], ly[5]], mode="markers", marker=dict(size=23, opacity=1, color=[NRED, NBLUE]), **OV))
for s, y in zip(b_legend_labels, b_legend_y):
    text(1533, y, s, 16.8, "#333333", anchor="left")

# ---------------- Panels C, D
def dots(x, terms, padj, size, ax_x, ax_y, cmin, cmax, cb_x, cb_top, cb_len, cb_w, ticks, lab_x):
    fig.add_trace(go.Scatter(x=x, y=list(range(len(terms))), mode="markers", xaxis=ax_x, yaxis=ax_y, hoverinfo="skip", showlegend=False,
        marker=dict(size=size, opacity=1, color=padj, cmin=cmin, cmax=cmax, colorscale=COLORSCALE, line_width=0,
            colorbar=dict(thickness=cb_w, thicknessmode="pixels", len=cb_len, lenmode="pixels", x=cb_x / W, xanchor="left",
                          y=1 - cb_top / H, yanchor="top", xpad=0, ypad=0, outlinewidth=0, tickvals=ticks, ticks="inside",
                          ticklen=5, tickcolor="white", tickwidth=1, showticklabels=False))))
    for v in ticks:
        text(lab_x, cb_top + (cmax - v) / (cmax - cmin) * cb_len, f"{v:.2f}", 14, "#222", anchor="left")
dots(c_ratio, c_terms, c_padj, c_size, "x", "y", 0.0009, 0.0486, 776.4, 1266, 126, 25, [0.01, 0.02, 0.03, 0.04], 808.5)
dots(d_ratio, d_terms, d_padj, d_size, "x2", "y2", 0.0098, 0.0441, 1826.5, 1414.6, 108, 21.5, [0.02, 0.03, 0.04], 1852)

fig.add_trace(go.Scatter(x=[791] * 4, y=c_count_y, mode="markers", marker=dict(size=c_count_sizes, opacity=1, color="black"), **OV))
fig.add_trace(go.Scatter(x=[1839.7] * 4, y=d_count_y, mode="markers", marker=dict(size=d_count_sizes, opacity=1, color="black"), **OV))
for s, y in zip(c_count_levels, c_count_y):
    text(813, y, s, 14, "#222", anchor="left")
for s, y in zip(d_count_levels, d_count_y):
    text(1860, y, s, 14, "#222", anchor="left")
text(775, 1431, "Count", 16.5, "#111", anchor="left")
text(775, 1250.5, "\u2212log10(p.adjust)", 16.5, "#111", anchor="left")
text(1825, 1259, "Count", 16.5, "#111", anchor="left")
text(1825, 1400, "\u2212log10(p.adjust)", 16.5, "#111", anchor="left")
text(569, 1053, "KEGG Up (Phosphoproteome)", 27, "#000")
text(1626, 1092, "KEGG Down (Phosphoproteome)", 27, "#000")
text(565, 1757, "Ratio", 27, TXT, bold=True, family="DejaVu Sans")
text(1626, 1723, "Ratio", 27, TXT, bold=True, family="DejaVu Sans")
text(22, 26, "A", 62); text(1053, 26, "B", 62); text(26, 1038, "C", 62); text(927, 1038, "D", 62)

def ax_common(**k):
    return dict(showgrid=False, zeroline=False, showline=True, mirror=True, linecolor="black", linewidth=3.5,
                ticks="outside", ticklen=3, tickwidth=2, tickcolor="#222", tickfont=dict(size=20, color=TXT, family=FONT), **k)
layout = dict(
    width=W, height=H, margin=dict(l=0, r=0, t=0, b=0, pad=0, autoexpand=False), paper_bgcolor="white", plot_bgcolor="rgba(0,0,0,0)",
    showlegend=False, shapes=shapes, annotations=ann, hovermode=False,
    xaxis=ax_common(domain=[386.2 / W, 751.8 / W], range=[0.0066, 0.1546], tickvals=[0.05, 0.10, 0.15], tickformat=".2f", anchor="y", ticklabelstandoff=-11),
    yaxis=ax_common(domain=[1 - 1718.6 / H, 1 - 1075.7 / H], range=[17.55, -0.55], tickvals=list(range(len(c_terms))), ticktext=c_terms, anchor="x"),
    xaxis2=ax_common(domain=[1442.7 / W, 1810.3 / W], range=[0.01363, 0.03601], tickvals=[0.015, 0.020, 0.025, 0.030, 0.035], tickformat=".3f", anchor="y2"),
    yaxis2=ax_common(domain=[1 - 1663 / H, 1 - 1113 / H], range=[9.57, -0.57], tickvals=list(range(len(d_terms))), ticktext=d_terms, anchor="x2", ticklabelstandoff=7),
    xaxis3=dict(domain=[0, 1], range=[0, W], visible=False, fixedrange=True, anchor="y3"),
    yaxis3=dict(domain=[0, 1], range=[H, 0], visible=False, fixedrange=True, anchor="x3"),
)
fig.update_layout(**layout)
fig.write_html("out.html", config={"displayModeBar": False},
               post_script="document.body.style.margin='0';document.documentElement.style.overflow='hidden';")
